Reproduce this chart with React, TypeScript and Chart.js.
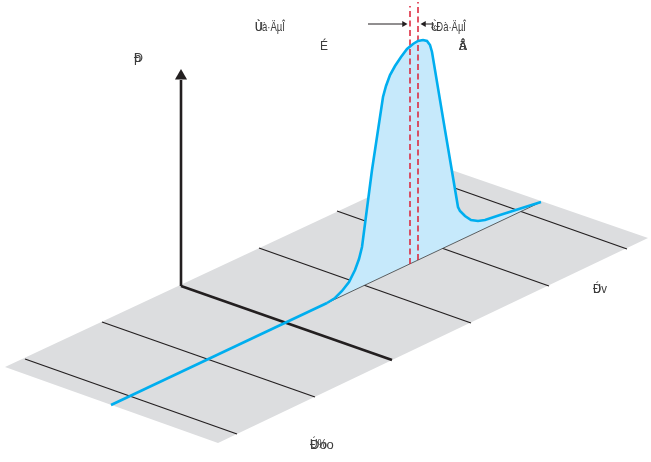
import React, { useEffect, useRef } from "react";
import { Chart, registerables } from "chart.js";

Chart.register(...registerables);

type P = { x: number; y: number };
const pts = (a: number[][]): P[] => a.map(([x, y]) => ({ x, y }));

const planeOutline = [[5, 367], [218, 443], [648, 238], [437, 165], [5, 367]];
const gridLines = [
  [[25, 359], [237, 434]],
  [[102, 322], [315, 397]],
  [[259, 248], [471, 323]],
  [[337, 211], [549, 286]],
  [[415, 174], [627, 249]],
];
const axisDepth = [[181, 286], [392, 360]];
const axisUp = [[181, 286], [181, 80]];
const axisUpHead = [[181, 76]];
const spectrum = [
  [327, 303], [335, 298], [342, 291], [349, 282], [355, 270], [359, 259], [362, 247],
  [372, 170], [383, 97], [386, 86], [390, 75], [395, 66], [401, 57], [407, 49], [413, 44],
  [418, 41], [423, 40], [427, 41], [430, 45], [432, 52], [445, 130], [458, 207], [460, 211],
  [465, 216], [471, 220], [478, 221], [485, 220], [500, 215], [541, 202],
];
const leadIn = [[111, 405], [327, 303]];
const baseLine = [[327, 303], [541, 202]];
const marker1 = [[410, 264], [410, 6]];
const marker2 = [[418, 260], [418, 2]];
const arrowLeftLine = [[368, 24], [404, 24]];
const arrowLeftHead = [[404, 24]];
const arrowRightLine = [[424, 24], [434, 24]];
const arrowRightHead = [[424, 24]];

const labels: [string, number, number, number][] = [
  ["Ùà·ÄµÎ", 255, 31, 30],
  ["Ù", 255, 31, 8],
  ["«Ðà·ÄµÎ", 431, 31, 35],
  ["Ù", 431, 31, 8],
  ["É", 320, 50, 8],
  ["ã", 459, 50, 8],
  ["Å", 459, 50, 8],
  ["Â", 459, 50, 8],
  ["þ", 134, 62, 9],
  ["Ð", 134, 62, 9],
  ["Ðv", 593, 293, 14],
  ["Ú", 593, 293, 8],
  ["Ðoo", 310, 449, 25],
  ["Ú%", 310, 448, 17],
];

const line = (data: number[][], color: string, width: number, dash?: number[]) => ({
  data: pts(data),
  showLine: true,
  borderColor: color,
  borderWidth: width,
  borderDash: dash ?? [],
  pointRadius: 0,
  fill: false,
  tension: 0,
});

const head = (data: number[][], rotation: number, radius: number) => ({
  data: pts(data),
  showLine: false,
  pointStyle: "triangle" as const,
  pointRotation: rotation,
  pointRadius: radius,
  pointBackgroundColor: "#231f20",
  pointBorderColor: "#231f20",
  pointBorderWidth: 0,
});

const textPlugin = {
  id: "labels",
  afterDatasetsDraw(chart: any) {
    const { ctx, scales } = chart;
    ctx.save();
    ctx.font = '13px "Liberation Sans", "Noto Sans"';
    ctx.fillStyle = "#3c3c3c";
    ctx.textBaseline = "alphabetic";
    labels.forEach(([t, x, y, w]) => {
      ctx.fillText(t, scales.x.getPixelForValue(x), scales.y.getPixelForValue(y), w);
    });
    ctx.restore();
  },
};

export default function App() {
  const ref = useRef<HTMLCanvasElement>(null);
  useEffect(() => {
    document.body.style.margin = "0";
    const layers: any[] = [
      { data: pts(planeOutline), showLine: true, fill: "shape", backgroundColor: "#dcdddf", borderWidth: 0, pointRadius: 0 },
      ...gridLines.map((g) => line(g, "#231f20", 1.3)),
      line(axisDepth, "#231f20", 2.6),
      line(axisUp, "#231f20", 2.6),
      head(axisUpHead, 0, 7),
      {
        data: pts(spectrum),
        showLine: true,
        fill: "shape",
        backgroundColor: "#c6e9fb",
        borderWidth: 0,
        pointRadius: 0,
        tension: 0,
      },
      line(baseLine, "#3c3c3c", 0.8),
      line(marker1, "#dc1f36", 1.5, [6, 3.5]),
      line(marker2, "#dc1f36", 1.5, [6, 3.5]),
      line(leadIn, "#00aeef", 2.6),
      line(spectrum, "#00aeef", 2.6),
      line(arrowLeftLine, "#231f20", 1),
      head(arrowLeftHead, 90, 3.5),
      line(arrowRightLine, "#231f20", 1),
      head(arrowRightHead, -90, 3.5),
    ];
    const chart = new Chart(ref.current!, {
      type: "scatter",
      data: { datasets: layers.reverse() },
      options: {
        animation: false,
        responsive: false,
        layout: { padding: 0, autoPadding: false },
        plugins: { legend: { display: false }, tooltip: { enabled: false } },
        scales: {
          x: { type: "linear", display: false, min: 0, max: 651 },
          y: { type: "linear", display: false, min: 0, max: 462, reverse: true },
        },
      },
      plugins: [textPlugin],
    });
    return () => chart.destroy();
  }, []);
  return <canvas ref={ref} width={651} height={462} style={{ display: "block" }} />;
}
